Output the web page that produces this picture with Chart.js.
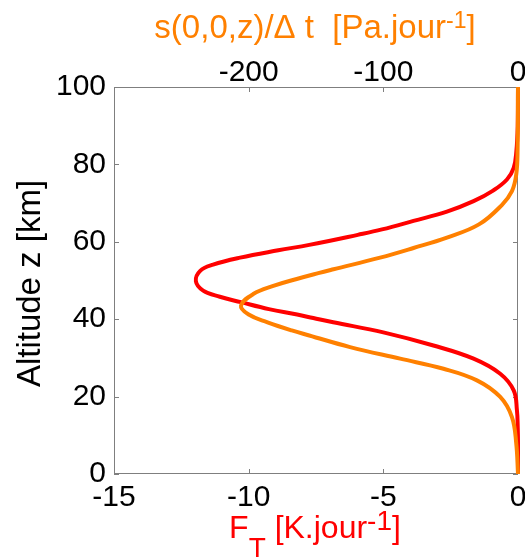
<!DOCTYPE html>
<html>
<head>
<meta charset="utf-8">
<script src="https://cdn.jsdelivr.net/npm/chart.js@4.4.0/dist/chart.umd.min.js"></script>
<style>
  html, body { margin: 0; padding: 0; background: #fff; }
</style>
</head>
<body>
<canvas id="chart" width="525" height="560"></canvas>
<script>
// altitude (km) and heating rate F_T (K/jour), red curve, bottom axis
const altRed = [0, 8, 12, 16.5, 21.6, 25.9, 29.8, 33.2, 36.6, 39.2, 40.3, 41.2, 42.6, 44.4, 45.8, 47.4, 49.8,
  52.5, 54.1, 55.9, 57.8, 59.2, 61.8, 63.2, 65.4, 67.8, 70.5, 73.3, 76.1, 79.1, 83.4, 90, 100]
const heatRate = [0, 0, -0.01, -0.04, -0.16, -0.66, -1.65, -3.14, -5.0, -6.86, -7.6, -8.2, -9.25, -10.29, -11.07, -11.69, -11.96,
  -11.8, -11.32, -10.32, -8.9, -7.75, -5.95, -5.05, -3.88, -2.64, -1.65, -0.91, -0.41, -0.16, -0.06, -0.01, 0]

// altitude (km) and s(0,0,z)/dt (Pa/jour), orange curve, top axis
const altOrange = [0, 7.9, 14.7, 19.9, 24.2, 27.2, 29.8, 32.8, 35.8, 37.1, 39.2, 41.2, 43.5, 46.5, 48.6, 50.4, 51.9,
  52.9, 55.9, 58.4, 61.1, 64.5, 69.5, 73.1, 77.4, 84, 100]
const pressRate = [0, -1.3, -4.5, -13.2, -30.5, -55.3, -87.5, -124.7, -155, -168, -186, -200, -205.7, -196.6, -181.7, -164.3, -148.3,
  -137, -102.4, -77.6, -52.8, -29, -12, -4.5, -1.3, -0.3, 0]

const bottomTicks = [-15, -10, -5, 0]
const topTicks = [-200, -100, 0]
const altTicks = [0, 20, 40, 60, 80, 100]

const FONT = '"Liberation Sans", Arial, Helvetica, sans-serif'
const RED = '#ff0000'
const ORANGE = '#ff8000'
const AXIS = '#7f7f7f'

function toPoints(xs, ys) {
  const pts = []
  for (let i = 0; i < xs.length; i++) {
    pts.push({ x: xs[i], y: ys[i] })
  }
  return pts
}

function setTicks(list) {
  return function (scale) {
    scale.ticks = list.map(v => ({ value: v }))
  }
}

// fixed axis sizes, and no extra room for the end labels
function fixSize(h, w) {
  return function (s) {
    if (h) s.height = h
    if (w) s.width = w
    s.paddingLeft = 0
    s.paddingRight = 0
    s.paddingTop = 0
    s.paddingBottom = 0
  }
}

// box round the plot and small inward ticks, like the original figure
const boxPlugin = {
  id: 'box',
  beforeDatasetsDraw(chart) {
    const { ctx, chartArea: a, scales } = chart
    const len = 5
    ctx.save()
    ctx.strokeStyle = AXIS
    ctx.lineWidth = 1
    ctx.strokeRect(a.left + 0.5, a.top + 0.5, a.right - a.left - 1, a.bottom - a.top - 1)
    ctx.beginPath()
    altTicks.forEach(v => {
      const y = Math.round(scales.y.getPixelForValue(v)) + 0.5
      ctx.moveTo(a.left, y); ctx.lineTo(a.left + len, y)
      ctx.moveTo(a.right, y); ctx.lineTo(a.right - len, y)
    })
    bottomTicks.forEach(v => {
      const x = Math.round(scales.x.getPixelForValue(v)) + 0.5
      ctx.moveTo(x, a.bottom); ctx.lineTo(x, a.bottom - len)
    })
    topTicks.forEach(v => {
      const x = Math.round(scales.x2.getPixelForValue(v)) + 0.5
      ctx.moveTo(x, a.top); ctx.lineTo(x, a.top + len)
    })
    ctx.stroke()
    ctx.restore()
  }
}

// titles with sub/superscripts
function drawRich(ctx, parts, cx, baseline, color) {
  let w = 0
  parts.forEach(p => {
    ctx.font = p.size + 'px ' + FONT
    p.w = ctx.measureText(p.t).width
    w += p.w
  })
  let x = cx - w / 2
  ctx.fillStyle = color
  ctx.textBaseline = 'alphabetic'
  ctx.textAlign = 'left'
  parts.forEach(p => {
    ctx.font = p.size + 'px ' + FONT
    ctx.fillText(p.t, x, baseline + (p.dy || 0))
    x += p.w
  })
}

const titlePlugin = {
  id: 'titles',
  afterDraw(chart) {
    const { ctx, chartArea: a } = chart
    const cx = (a.left + a.right) / 2
    ctx.save()
    drawRich(ctx, [
      { t: 's(0,0,z)/\u0394 t  [Pa.jour', size: 33 },
      { t: '-1', size: 23, dy: -10 },
      { t: ']', size: 33 }
    ], cx - 1, 38, ORANGE)
    drawRich(ctx, [
      { t: 'F', size: 32 },
      { t: 'T', size: 28, dy: 19 },
      { t: ' [K.jour', size: 32 },
      { t: '-1', size: 28, dy: -8 },
      { t: ']', size: 32 }
    ], cx - 1, 538, RED)
    ctx.translate(40, (a.top + a.bottom) / 2 + 3)
    ctx.rotate(-Math.PI / 2)
    ctx.font = '33px ' + FONT
    ctx.fillStyle = '#000'
    ctx.textAlign = 'center'
    ctx.textBaseline = 'alphabetic'
    ctx.fillText('Altitude z [km]', 0, 0)
    ctx.restore()
  }
}

const tickFont = { family: FONT, size: 30 }

new Chart(document.getElementById('chart'), {
  type: 'scatter',
  data: {
    datasets: [{
      label: 's(0,0,z)/dt',
      data: toPoints(pressRate, altOrange),
      xAxisID: 'x2',
      yAxisID: 'y',
      showLine: true,
      borderColor: ORANGE,
      borderWidth: 4,
      pointRadius: 0,
      tension: 0.4,
      clip: false,
      order: 0
    }, {
      label: 'F_T',
      data: toPoints(heatRate, altRed),
      xAxisID: 'x',
      yAxisID: 'y',
      showLine: true,
      borderColor: RED,
      borderWidth: 4,
      pointRadius: 0,
      tension: 0.4,
      clip: false,
      order: 1
    }]
  },
  options: {
    responsive: false,
    animation: false,
    layout: { padding: { right: 7, left: 0, top: 0, bottom: 0 } },
    plugins: {
      legend: { display: false },
      tooltip: { enabled: false }
    },
    scales: {
      x: {
        type: 'linear',
        position: 'bottom',
        min: -15,
        max: 0,
        afterBuildTicks: setTicks(bottomTicks),
        afterFit: fixSize(86, 0),
        border: { display: false },
        grid: { display: false, drawTicks: false },
        ticks: { color: '#000', font: tickFont, padding: 6, autoSkip: false, maxRotation: 0 }
      },
      x2: {
        type: 'linear',
        position: 'top',
        min: -300,
        max: 0,
        afterBuildTicks: setTicks(topTicks),
        afterFit: fixSize(87, 0),
        border: { display: false },
        grid: { display: false, drawTicks: false },
        ticks: { color: '#000', font: tickFont, padding: -4, autoSkip: false, maxRotation: 0 }
      },
      y: {
        type: 'linear',
        min: 0,
        max: 100,
        afterBuildTicks: setTicks(altTicks),
        afterFit: fixSize(0, 114),
        border: { display: false },
        grid: { display: false, drawTicks: false },
        ticks: { color: '#000', font: tickFont, padding: 8, autoSkip: false }
      }
    }
  },
  plugins: [boxPlugin, titlePlugin]
})
</script>
</body>
</html>
